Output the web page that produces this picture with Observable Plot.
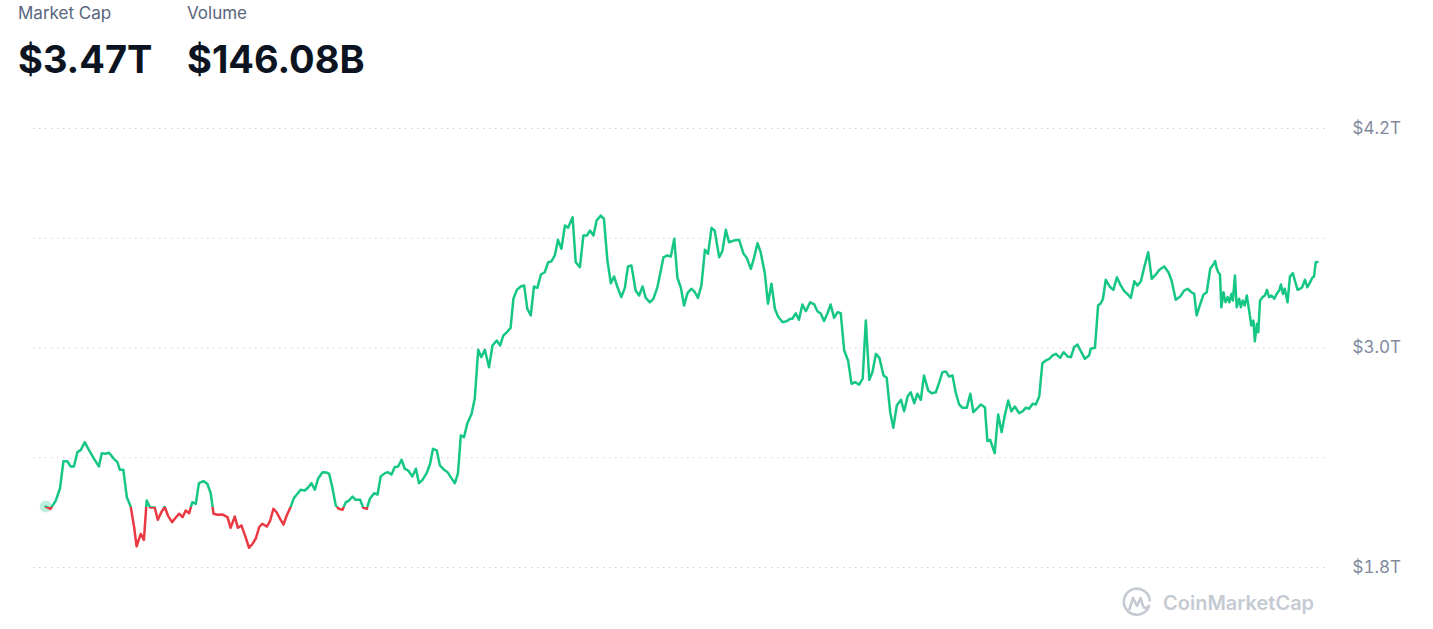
<!DOCTYPE html>
<html>
<head>
<meta charset="utf-8">
<script src="https://cdn.jsdelivr.net/npm/d3@7"></script>
<script src="https://cdn.jsdelivr.net/npm/@observablehq/plot@0.6"></script>
<style>
  html, body { margin: 0; padding: 0; background: #fff; }
  body { width: 1433px; height: 629px; position: relative; overflow: hidden; font-family: Inter, "Noto Sans", sans-serif; }
  .lbl { position: absolute; top: 5px; font-size: 17px; line-height: 17px; color: #58667e; font-weight: 400; white-space: nowrap; }
  .big { position: absolute; top: 40px; font-size: 38px; line-height: 38px; color: #0d1421; font-weight: 700; white-space: nowrap; }
  #chart { position: absolute; left: 0; top: 0; }
  #wm { position: absolute; left: 1121px; top: 587px; display: flex; align-items: center; gap: 10px; color: #c5cad3; font-size: 20px; font-weight: 600; white-space: nowrap; }
  g[aria-label="y-axis tick label"] { color: #808a9d; }
</style>
</head>
<body>
<div class="lbl" style="left:18px">Market Cap</div>
<div class="lbl" style="left:187px">Volume</div>
<div class="big" style="left:18px">$3.47T</div>
<div class="big" style="left:187px">$146.08B</div>
<div id="chart"></div>
<div id="wm">
  <svg width="32" height="32" viewBox="0 0 32 32" fill="none" stroke="#c5cad3" stroke-width="2.6" stroke-linecap="round" stroke-linejoin="round">
    <path d="M27.5 20.5 A13 13 0 1 1 28.8 13.5"/>
    <path d="M8.5 22 L12 11 L16 19 L19.5 11 L22 19 Q24 23 28 19"/>
  </svg>
  <span>CoinMarketCap</span>
</div>
<script>
// Header figures
const marketCapLabel = "$3.47T";
const volumeLabel = "$146.08B";

// Axis
const gridValues = [1.8, 2.4, 3.0, 3.6, 4.2];
const tickLabelValues = [1.8, 3.0, 4.2];

// Series: day offset from start of window, total market cap in trillions USD
const days = [
  0,1.4,2.9,4.1,5.1,6.2,7.2,8.1,9.1,10.1,
  11.2,12.4,13.9,15.3,16.1,17.2,18.2,19.6,20.6,21.3,
  22.3,23.3,24.4,25.4,26.1,27.3,28.2,29.0,30.0,31.3,
  32.2,33.2,34.2,35.1,36.3,37.3,38.3,39.3,40.2,41.2,
  42.1,43.1,44.0,45.3,46.4,47.4,48.2,49.3,50.7,52.2,
  53.1,54.3,55.2,56.2,57.4,58.4,
  59.4,60.3,61.3,62.2,
  63.5,64.4,65.4,66.3,67.3,68.3,69.2,70.4,71.3,72.3,
  73.2,74.4,75.3,76.3,77.3,78.2,79.5,80.7,81.4,82.3,
  83.3,84.2,85.2,86.2,87.1,88.1,89.0,90.3,91.2,92.2,
  93.1,94.3,95.3,96.2,97.4,98.3,99.3,100.2,101.2,102.2,
  103.1,104.1,105.3,106.3,107.2,108.2,109.4,110.4,111.2,112.3,
  113.2,114.4,115.4,116.3,117.5,118.4,119.2,120.1,121.1,122.3,
  123.2,124.2,125.1,126.1,127.3,128.3,129.5,130.5,131.4,132.6,
  133.5,134.3,135.3,136.4,137.4,138.3,139.3,140.2,141.2,142.2,
  143.3,144.3,145.2,146.2,147.1,148.1,149.1,150.0,151.3,152.2,
  153.4,154.4,155.4,156.3,157.3,158.2,159.4,160.3,161.3,162.3,
  163.2,164.2,165.3,166.3,167.2,168.2,169.4,170.4,171.4,172.3,
  173.5,174.5,175.7,177.4,178.5,179.5,180.5,181.4,182.4,183.3,
  184.3,185.4,186.4,187.3,188.3,189.3,190.2,191.2,192.1,193.4,
  194.3,195.3,196.2,197.7,199.1,200.4,201.3,202.5,203.4,204.4,
  205.3,206.5,207.4,208.4,209.4,210.3,211.6,212.8,213.8,214.4,
  215.4,216.3,217.3,218.3,219.5,220.7,221.6,222.6,223.5,224.5,
  225.4,226.4,227.4,228.3,229.3,230.4,231.4,232.4,233.6,234.6,
  235.5,236.5,237.4,238.4,239.4,240.6,241.5,242.5,243.4,244.4,
  245.6,246.5,247.5,248.4,249.4,250.3,251.3,252.2,253.4,254.4,
  255.6,256.6,257.5,258.5,259.4,260.4,261.3,262.3,263.3,264.5,
  265.5,266.4,267.4,268.5,269.7,270.4,271.2,272.5,273.5,274.5,
  275.4,276.4,277.3,278.3,279.5,280.5,281.4,282.4,283.4,284.3,
  285.3,286.2,287.2,288.2,289.1,290.1,291.3,292.3,293.4,294.4,
  295.3,296.3,297.4,298.4,299.6,300.1,301.3,302.2,303.0,303.6,
  304.4,305.7,306.6,307.6,308.7,309.7,310.6,311.6,312.6,313.5,
  314.5,315.4,316.6,317.6,318.8,319.8,321.2,322.4,323.3,324.5,
  325.8,326.9,327.9,329.0,329.8,330.5,331.5,332.5,333.4,334.4,
  335.4,335.8,336.3,336.7,337.2,337.6,338.2,338.8,339.4,339.9,
  340.5,340.9,341.5,342.0,342.7,343.2,343.7,344.3,344.9,345.5,
  346.2,346.8,347.2,347.8,348.2,348.7,349.4,350.1,350.7,351.3,
  352.0,352.8,353.5,354.2,354.7,355.3,355.8,356.6,357.3,358.1,
  358.7,359.5,360.2,360.8,361.6,362.3,363.1,363.7,364.2,364.7,
  365.2
];
const capT = [
  2.133,2.121,2.166,2.232,2.381,2.381,2.352,2.352,2.430,2.443,
  2.485,2.443,2.394,2.352,2.425,2.422,2.427,2.394,2.376,2.334,
  2.334,2.184,2.134,2.020,1.915,1.984,1.951,2.166,2.128,2.128,
  2.061,2.102,2.131,2.084,2.048,2.072,2.094,2.075,2.112,2.097,
  2.157,2.148,2.261,2.272,2.258,2.206,2.094,2.088,2.090,2.075,
  2.017,2.079,2.017,2.030,1.966,1.908,
  1.930,1.957,2.020,2.039,
  2.024,2.053,2.121,2.102,2.066,2.035,2.084,2.134,2.181,2.203,
  2.225,2.221,2.236,2.261,2.225,2.285,2.321,2.319,2.312,2.239,
  2.139,2.121,2.115,2.157,2.166,2.188,2.170,2.170,2.126,2.121,
  2.176,2.206,2.199,2.298,2.316,2.321,2.308,2.348,2.352,2.389,
  2.340,2.330,2.298,2.340,2.261,2.279,2.316,2.367,2.449,2.440,
  2.358,2.334,2.321,2.294,2.261,2.316,2.522,2.512,2.589,2.640,
  2.722,2.990,2.950,2.990,2.895,3.014,3.041,3.014,3.068,3.090,
  3.110,3.269,3.318,3.336,3.342,3.214,3.178,3.336,3.329,3.402,
  3.414,3.469,3.473,3.506,3.592,3.542,3.670,3.657,3.715,3.469,
  3.442,3.615,3.615,3.642,3.615,3.697,3.724,3.706,3.478,3.354,
  3.391,3.332,3.278,3.329,3.446,3.451,3.314,3.287,3.336,3.274,
  3.250,3.269,3.336,3.496,3.506,3.500,3.597,3.384,3.329,3.232,
  3.300,3.324,3.305,3.274,3.342,3.537,3.515,3.657,3.642,3.496,
  3.529,3.646,3.578,3.588,3.592,3.515,3.493,3.433,3.493,3.573,
  3.524,3.409,3.242,3.351,3.214,3.172,3.141,3.147,3.160,3.160,
  3.190,3.154,3.238,3.201,3.250,3.238,3.201,3.187,3.147,3.190,
  3.238,3.165,3.196,3.190,2.986,2.932,2.804,2.813,2.800,2.832,
  3.150,2.826,2.868,2.968,2.946,2.850,2.837,2.649,2.564,2.686,
  2.717,2.654,2.735,2.758,2.698,2.750,2.717,2.850,2.768,2.753,
  2.758,2.813,2.868,2.872,2.844,2.850,2.758,2.691,2.673,2.673,
  2.750,2.649,2.668,2.691,2.676,2.491,2.498,2.425,2.637,2.540,
  2.631,2.713,2.654,2.680,2.644,2.654,2.673,2.668,2.695,2.691,
  2.735,2.917,2.932,2.941,2.959,2.968,2.946,2.977,2.954,2.950,
  3.004,3.019,2.977,2.941,2.959,2.996,3.001,3.232,3.245,3.269,
  3.373,3.332,3.318,3.387,3.342,3.311,3.296,3.274,3.365,3.342,
  3.365,3.438,3.524,3.378,3.402,3.428,3.446,3.414,3.369,3.264,
  3.282,3.314,3.324,3.305,3.296,3.178,3.238,3.293,3.305,3.433,
  3.460,3.475,3.433,3.414,3.402,3.223,3.305,3.250,3.278,3.250,
  3.296,3.260,3.396,3.223,3.269,3.223,3.260,3.232,3.287,3.214,
  3.123,3.150,3.037,3.132,3.086,3.260,3.278,3.287,3.318,3.278,
  3.287,3.269,3.296,3.314,3.347,3.296,3.324,3.250,3.391,3.409,
  3.369,3.318,3.324,3.332,3.373,3.332,3.360,3.384,3.391,3.469,
  3.470
];

const upColor = "#16c784";
const downColor = "#ea3943";

const data = days.map((d, i) => ({day: d, cap: capT[i]}));
const startValue = capT[0];

const W = 1433, H = 629;
const plot = Plot.plot({
  width: W,
  height: H,
  marginTop: 128,
  marginBottom: 62,
  marginLeft: 33,
  marginRight: 108,
  style: {fontFamily: "Inter, 'Noto Sans', sans-serif", background: "transparent", overflow: "visible"},
  x: {domain: [-3.5, 367.5], axis: null},
  y: {domain: [1.8, 4.2], axis: null},
  marks: [
    Plot.ruleY(gridValues, {stroke: "#cfd3da", strokeWidth: 1, strokeDasharray: "1.5,4.5"}),
    Plot.axisY(tickLabelValues, {
      anchor: "right",
      label: null,
      tickSize: 0,
      tickPadding: 27,
      fontSize: 17,
      tickFormat: d => `$${d.toFixed(1)}T`
    }),
    Plot.dot(data.slice(0, 1), {x: "day", y: "cap", r: 6, fill: upColor, fillOpacity: 0.28, stroke: "none"}),
    Plot.lineY(data, {x: "day", y: "cap", stroke: "url(#cmc-split)", strokeWidth: 2.5, strokeLinejoin: "round", strokeLinecap: "round"})
  ]
});

// Split colour at the opening value: green above, red below
const yBase = plot.scale("y").apply(startValue);
const off = yBase / H;
const svg = d3.select(plot);
const defs = svg.insert("defs", ":first-child");
const grad = defs.append("linearGradient")
  .attr("id", "cmc-split")
  .attr("gradientUnits", "userSpaceOnUse")
  .attr("x1", 0).attr("y1", 0).attr("x2", 0).attr("y2", H);
grad.append("stop").attr("offset", off).attr("stop-color", upColor);
grad.append("stop").attr("offset", off).attr("stop-color", downColor);

document.getElementById("chart").appendChild(plot);
</script>
</body>
</html>
